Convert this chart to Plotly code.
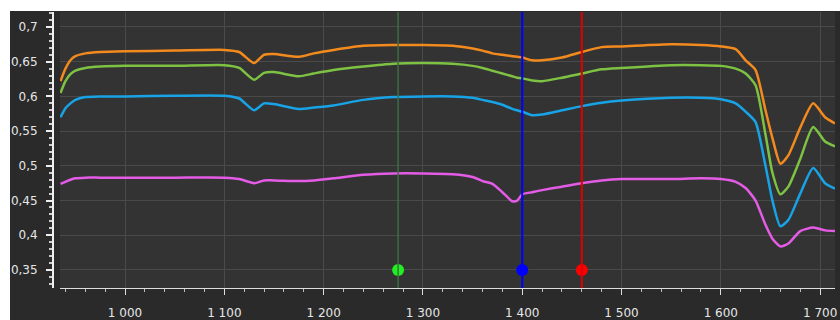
import plotly.graph_objects as go

wavelength = [935, 940, 945, 950, 960, 975, 1000, 1050, 1100, 1115, 1130, 1140, 1150, 1175, 1190,
              1210, 1240, 1270, 1300, 1330, 1350, 1360, 1370, 1380, 1390, 1395, 1400, 1410, 1420,
              1440, 1460, 1480, 1500, 1550, 1580, 1600, 1615, 1625, 1635, 1645, 1652, 1660, 1668,
              1680, 1693, 1705, 1715]

orange = [0.622, 0.640, 0.652, 0.658, 0.662, 0.664, 0.665, 0.666, 0.667, 0.664, 0.648, 0.660, 0.661,
          0.657, 0.662, 0.667, 0.673, 0.674, 0.674, 0.673, 0.669, 0.666, 0.662, 0.660, 0.658, 0.657,
          0.656, 0.652, 0.652, 0.656, 0.664, 0.671, 0.672, 0.675, 0.674, 0.672, 0.668, 0.652, 0.638,
          0.580, 0.540, 0.503, 0.515, 0.555, 0.590, 0.570, 0.561]

green = [0.605, 0.622, 0.632, 0.637, 0.641, 0.643, 0.644, 0.644, 0.645, 0.641, 0.624, 0.634, 0.635,
         0.629, 0.633, 0.638, 0.643, 0.647, 0.648, 0.647, 0.644, 0.641, 0.637, 0.633, 0.629, 0.627,
         0.626, 0.623, 0.622, 0.627, 0.633, 0.639, 0.641, 0.645, 0.645, 0.644, 0.640, 0.633, 0.616,
         0.545, 0.490, 0.459, 0.470, 0.510, 0.556, 0.535, 0.528]

blue = [0.570, 0.583, 0.590, 0.595, 0.599, 0.600, 0.600, 0.601, 0.601, 0.597, 0.580, 0.590, 0.589,
        0.582, 0.584, 0.587, 0.595, 0.599, 0.600, 0.600, 0.598, 0.595, 0.592, 0.588, 0.582, 0.580,
        0.578, 0.573, 0.574, 0.580, 0.586, 0.591, 0.594, 0.598, 0.598, 0.596, 0.590, 0.578, 0.563,
        0.500, 0.450, 0.413, 0.422, 0.460, 0.497, 0.475, 0.467]

magenta = [0.474, 0.477, 0.480, 0.482, 0.483, 0.483, 0.483, 0.483, 0.483, 0.481, 0.475, 0.479, 0.479,
           0.478, 0.479, 0.482, 0.487, 0.489, 0.489, 0.488, 0.484, 0.478, 0.474, 0.462, 0.449, 0.450,
           0.459, 0.462, 0.465, 0.470, 0.475, 0.479, 0.481, 0.481, 0.482, 0.481, 0.477, 0.468, 0.450,
           0.415, 0.395, 0.384, 0.388, 0.406, 0.411, 0.407, 0.406]

cursor_x = [1275, 1400, 1460]
cursor_marker_y = [0.35, 0.35, 0.35]
cursor_line_colors = ["#3f6e3f", "#0000ff", "#e00000"]
cursor_marker_colors = ["#22ee22", "#0000ff", "#ff0000"]
cursor_line_widths = [1.5, 2, 2]

series = [(orange, "#f28a1e"), (green, "#7dc242"), (blue, "#17a3e6"), (magenta, "#e45be6")]

fig = go.Figure()
for vals, col in series:
    fig.add_trace(go.Scatter(x=wavelength, y=vals, mode="lines",
                             line=dict(color=col, width=2.5, shape="spline", smoothing=0.6),
                             hoverinfo="skip", showlegend=False))

for cx, lc, lw in zip(cursor_x, cursor_line_colors, cursor_line_widths):
    fig.add_vline(x=cx, line=dict(color=lc, width=lw), layer="above")

fig.add_trace(go.Scatter(x=cursor_x, y=cursor_marker_y, mode="markers",
                         marker=dict(color=cursor_marker_colors, size=12, line=dict(width=0)),
                         hoverinfo="skip", showlegend=False, cliponaxis=False))

# the dark chart panel is offset inside a white page (10 px left, 11 px top)
W, H = 830, 309
ml, mr, mt, mb = 43, 5, 1, 32
pw = W - ml - mr

tickfont = dict(family="DejaVu Sans", size=12, color="#e6e6e6")
fig.update_layout(
    width=W, height=H,
    margin=dict(l=ml, r=mr, t=mt, b=mb, autoexpand=False),
    paper_bgcolor="#2a2a2a",
    plot_bgcolor="#333333",
    separators=", ",
    xaxis=dict(range=[934.5, 1715], domain=[7 / pw, 1], dtick=100, tick0=1000, automargin=False,
               showgrid=True, gridcolor="#4a4a4a", gridwidth=1, zeroline=False,
               showline=True, linecolor="#dddddd", linewidth=1,
               ticks="outside", ticklen=6, tickcolor="#dddddd", tickwidth=1,
               minor=dict(dtick=20, ticks="outside", ticklen=3, tickcolor="#bbbbbb", showgrid=False),
               separatethousands=True, tickfont=tickfont, ticklabelstandoff=8),
    yaxis=dict(range=[0.324, 0.7216], dtick=0.05, tick0=0.35, anchor="free", position=0,
               automargin=False,
               showgrid=True, gridcolor="#4a4a4a", gridwidth=1, zeroline=False,
               showline=True, linecolor="#eeeeee", linewidth=2,
               ticks="outside", ticklen=6, tickcolor="#eeeeee", tickwidth=2,
               minor=dict(dtick=0.01, ticks="outside", ticklen=3, tickcolor="#cccccc", showgrid=False),
               tickfont=tickfont, ticklabelstandoff=6),
)

fig.write_html("out.html", config={"displayModeBar": False},
               post_script=("document.body.style.margin='0';"
                            "document.body.style.background='white';"
                            "var gd=document.getElementById('{plot_id}');"
                            "gd.style.marginLeft='10px';gd.style.marginTop='11px';"))
